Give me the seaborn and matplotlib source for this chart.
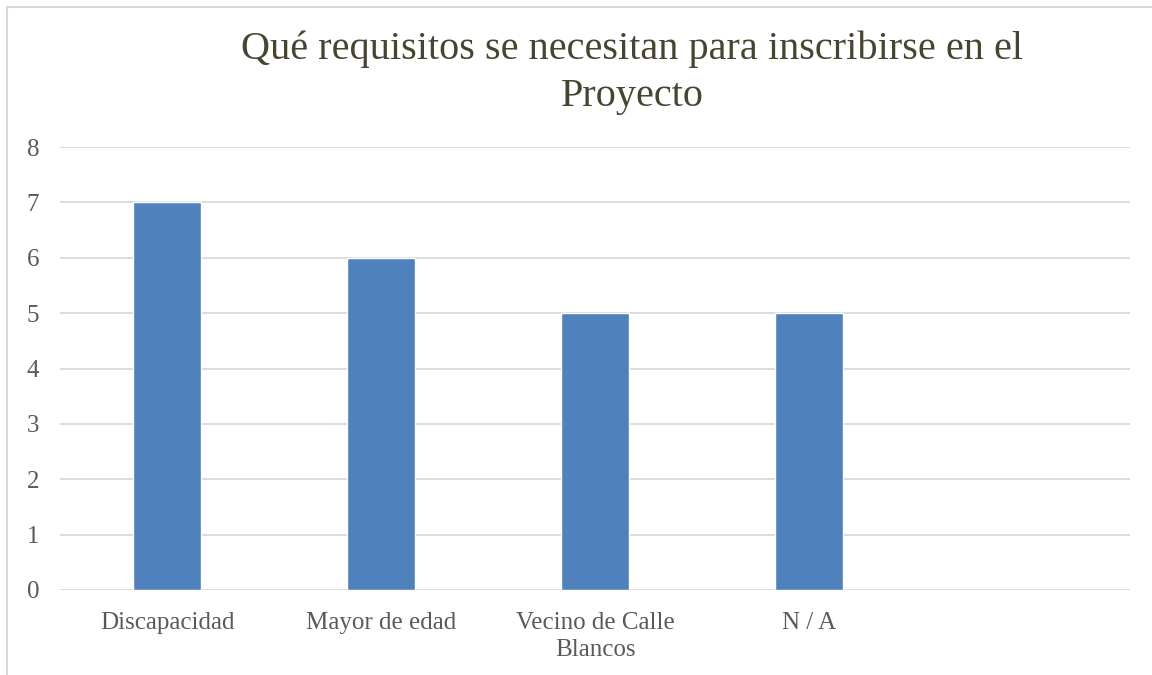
import matplotlib
matplotlib.use("Agg")
import matplotlib.pyplot as plt
from matplotlib.lines import Line2D
import seaborn as sns
import pandas as pd

categories = ["Discapacidad", "Mayor de edad", "Vecino de Calle\nBlancos", "N / A"]
values = [7, 6, 5, 5]
yticks = [0, 1, 2, 3, 4, 5, 6, 7, 8]
title = "Qué requisitos se necesitan para inscribirse en el\nProyecto"

sns.set_theme(style="white")
plt.rcParams['font.family'] = ['Liberation Serif', 'DejaVu Serif']

df = pd.DataFrame({"cat": categories, "val": values})

fig = plt.figure(figsize=(11.52, 6.75), dpi=100)
ax = fig.add_axes([60/1152, 85/675, 1070/1152, 443/675])

sns.barplot(data=df, x="cat", y="val", color="#4F81BD", saturation=1, width=0.32, ax=ax)

ax.set_xlim(-0.5, 4.5)
ax.set_ylim(0, 8)
ax.set_yticks(yticks)
ax.set_yticklabels([str(t) for t in yticks], fontsize=18, color="#595959")
ax.tick_params(axis='x', labelsize=18, labelcolor="#595959", length=0, pad=16)
for lbl in ax.get_xticklabels():
    lbl.set_linespacing(1.3)
ax.tick_params(axis='y', length=0, pad=15)
ax.set_xlabel("")
ax.set_ylabel("")
ax.yaxis.grid(True, color="#D9D9D9", linewidth=1.3)
ax.set_axisbelow(True)
for s in ax.spines.values():
    s.set_visible(False)

fig.text(632/1152, 1 - 73/675, title, ha="center", va="center", fontsize=29,
         color="#47452F", linespacing=1.35)

# chart border (top and left only visible)
fig.lines.append(Line2D([6.5/1152, 6.5/1152], [0, 1 - 6.5/675], transform=fig.transFigure,
                        color="#D9D9D9", linewidth=1.5))
fig.lines.append(Line2D([6.5/1152, 1], [1 - 6.5/675, 1 - 6.5/675], transform=fig.transFigure,
                        color="#D9D9D9", linewidth=1.5))

fig.savefig("out.png", dpi=100)
